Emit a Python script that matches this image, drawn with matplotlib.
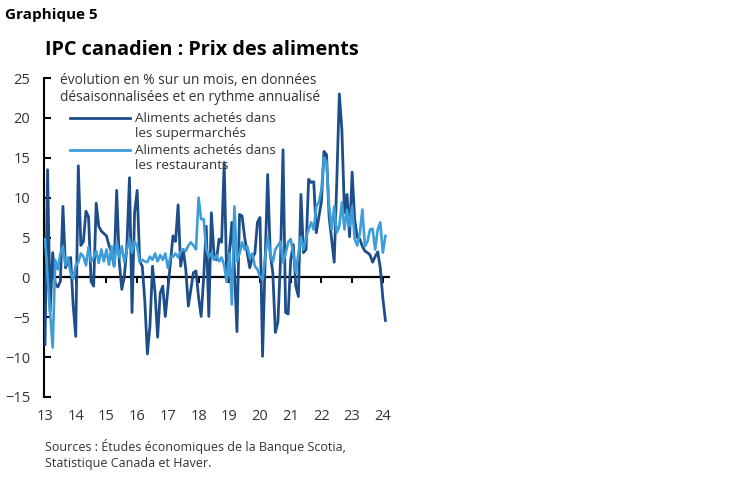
import numpy as np
import matplotlib
matplotlib.use("Agg")
import matplotlib.pyplot as plt
from matplotlib.lines import Line2D

plt.rcParams['font.family'] = ['Open Sans', 'DejaVu Sans']

DARK = "#1d4e89"
LIGHT = "#3d9dd8"
TEXT = "#333333"

# monthly, annualized m/m % change, Jan 2013 .. Feb 2024
supermarkets = [
    -8.4, 13.5, -4.3, 3.1, -0.8, -1.2, -0.5, 8.9, 1.2, 2.0, 2.5, -3.5,
    -7.4, 14.0, 4.0, 4.5, 8.3, 7.6, -0.5, -1.1, 9.3, 6.4, 5.8, 5.5,
    5.2, 4.0, 3.1, 1.4, 10.9, 2.0, -1.5, 0.1, 4.0, 12.5, -4.4, 8.1,
    10.9, 2.0, 1.4, -3.0, -9.6, -6.1, 1.4, -2.0, -7.5, -2.0, -1.1, -4.9,
    -1.5, 2.0, 5.2, 4.5, 9.1, 1.4, 3.5, 1.0, -3.6, -1.5, 0.6, 0.8,
    -2.5, -4.9, 0.0, 6.4, -4.9, 8.1, 3.0, 2.2, 4.8, 4.4, 14.4, -0.2,
    3.0, 6.9, 1.0, -6.8, 7.9, 7.7, 5.0, 3.1, 1.2, 2.5, 3.0, 6.9,
    7.5, -9.9, 2.0, 12.9, 3.0, 0.6, -6.9, -5.6, 2.0, 16.0, -4.4, -4.6,
    2.2, 4.1, -1.1, -2.4, 10.4, 3.1, 3.5, 12.3, 11.9, 12.0, 5.6, 7.6,
    9.5, 15.8, 15.4, 7.6, 4.8, 1.9, 12.0, 23.0, 18.5, 8.1, 10.4, 5.1,
    13.2, 7.3, 5.0, 4.8, 3.9, 3.3, 3.1, 2.8, 1.9, 2.6, 3.2, 1.2,
    -2.6, -5.4,
]
restaurants = [
    4.8, 0.0, -4.5, -8.8, 2.2, 1.0, 3.0, 3.9, 1.5, 2.5, 0.6, -0.2,
    1.5, 1.9, 3.0, 2.6, 1.5, 3.8, 2.0, 2.5, 3.3, 1.8, 3.5, 2.0,
    3.5, 1.6, 3.9, 1.4, 4.4, 2.5, 3.9, 1.9, 3.5, 4.8, 3.1, 4.5,
    3.9, 1.9, 2.2, 2.0, 1.9, 2.6, 2.2, 3.0, 2.0, 2.8, 2.2, 3.0,
    1.2, 2.6, 2.6, 3.0, 2.5, 3.2, 3.5, 3.3, 4.0, 4.4, 4.0, 3.5,
    10.0, 7.3, 7.3, 3.5, 2.6, 3.0, 2.2, 2.8, 2.0, 2.5, 1.5, -0.6,
    3.0, -3.4, 8.9, 2.0, 3.0, 4.4, 3.5, 3.9, 2.5, 3.0, 1.4, 1.0,
    0.1, -0.2, 2.5, 5.0, 3.0, 1.9, 3.5, 4.0, 4.5, 1.9, 3.0, 4.4,
    4.8, 3.0, 0.6, 3.0, 5.1, 3.5, 5.0, 6.0, 6.9, 6.0, 8.9, 9.4,
    11.0, 15.0, 14.5, 8.9, 6.0, 8.9, 5.6, 6.4, 9.4, 6.0, 8.5, 6.4,
    8.9, 4.8, 4.0, 5.5, 8.5, 3.9, 4.5, 6.0, 6.1, 3.5, 6.0, 6.9,
    3.1, 5.2,
]
year_labels = ["13", "14", "15", "16", "17", "18", "19", "20", "21", "22", "23", "24"]
y_ticks = [25, 20, 15, 10, 5, 0, -5, -10, -15]

months = np.arange(len(supermarkets))
year_pos = np.arange(len(year_labels)) * 12

fig = plt.figure(figsize=(7.49, 4.82), dpi=100)
ax = fig.add_axes([44 / 749, 1 - 397 / 482, (390 - 44) / 749, (397 - 78) / 482])

ax.plot(months, supermarkets, color=DARK, lw=2.0, zorder=3)
ax.plot(months, restaurants, color=LIGHT, lw=1.9, zorder=4)

ax.set_xlim(-0.4, 134.8)
ax.set_ylim(-15, 25)

# zero line with year ticks hanging below it
ax.axhline(0, color="black", lw=1.6, zorder=2)
ax.vlines(year_pos, -0.7, 0, color="black", lw=1.4, zorder=2)

for s in ["top", "right", "bottom"]:
    ax.spines[s].set_visible(False)
ax.spines["left"].set_linewidth(1.5)

ax.set_yticks(y_ticks)
ax.tick_params(axis="y", direction="in", length=5, width=1.5, pad=10,
               labelsize=10.5, labelcolor=TEXT)
ax.set_xticks(year_pos)
ax.set_xticklabels(year_labels)
ax.tick_params(axis="x", length=0, pad=9, labelsize=10.5, labelcolor=TEXT)

# titles and notes
fig.text(5 / 749, 1 - 15 / 482, "Graphique 5", fontsize=11, fontweight="bold",
         va="center", ha="left", color="black")
fig.text(45 / 749, 1 - 50 / 482, "IPC canadien : Prix des aliments", fontsize=14.3,
         fontweight="bold", va="center", ha="left", color="black")
fig.text(60 / 749, 1 - 89 / 482,
         "évolution en % sur un mois, en données\ndésaisonnalisées et en rythme annualisé",
         fontsize=9.9, va="center", ha="left", color=TEXT, linespacing=1.25)

# legend
for yy, col, lab in [(118, DARK, "Aliments achetés dans\nles supermarchés"),
                     (150, LIGHT, "Aliments achetés dans\nles restaurants")]:
    fig.add_artist(Line2D([70 / 749, 130 / 749], [1 - yy / 482, 1 - yy / 482],
                          color=col, lw=2.0))
    fig.text(135 / 749, 1 - (yy + 8) / 482, lab, fontsize=9.7, va="center",
             ha="left", color=TEXT, linespacing=1.25)

fig.text(45 / 749, 1 - 455 / 482,
         "Sources : Études économiques de la Banque Scotia,\nStatistique Canada et Haver.",
         fontsize=9.0, va="center", ha="left", color=TEXT, linespacing=1.3)

fig.savefig("out.png", dpi=100)
